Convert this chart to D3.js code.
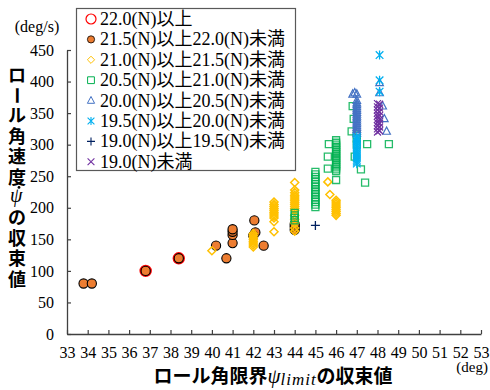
<!DOCTYPE html>
<html>
<head>
<meta charset="utf-8">
<script src="https://cdn.jsdelivr.net/npm/d3@7"></script>
<style>
  body { margin: 0; background: #fff; }
  svg { display: block; }
</style>
</head>
<body>
<div id="chart"></div>
<script>
// x: ロール角限界 (deg), y: ロール角速度 (deg/s)
const xTicks = d3.range(33, 54);
const yTicks = [0, 50, 100, 150, 200, 250, 300, 350, 400, 450];

const ser22 = [[36.8, 100], [38.4, 120]];
const ser215 = [[33.8, 80], [34.2, 80], [36.8, 100], [38.4, 120], [40.2, 140], [40.7, 120],
  [41.0, 144], [41.0, 157], [41.0, 162], [41.0, 166], [42.05, 180], [42.1, 161], [42.0, 156],
  [42.5, 140], [44.0, 165], [44.0, 170], [44.0, 174]];
const ser21 = [[40.0, 132],
  [42.0, 138], [42.0, 141], [42.0, 144], [42.0, 147], [42.0, 150], [42.0, 153], [42.0, 156], [42.0, 159],
  [43.0, 162], [43.0, 178], [43.0, 184], [43.0, 187], [43.0, 190], [43.0, 193], [43.0, 196], [43.0, 199],
  [43.0, 202], [43.0, 205], [43.0, 209],
  [44.0, 163], [44.0, 168], [44.0, 176], [44.0, 182], [44.0, 188], [44.0, 196], [44.0, 199], [44.0, 202],
  [44.0, 205], [44.0, 208], [44.0, 211], [44.0, 214], [44.0, 217], [44.0, 220], [44.0, 224], [44.0, 228],
  [44.0, 240], [45.6, 241], [45.7, 221],
  [46.0, 188], [46.0, 191], [46.0, 194], [46.0, 197], [46.0, 200], [46.0, 203], [46.0, 206], [46.0, 209], [46.0, 212]];
const ser205 = [[44.0, 180], [44.0, 184], [44.0, 188], [44.0, 192],
  [45.0, 201], [45.0, 205], [45.0, 209], [45.0, 213], [45.0, 217], [45.0, 221], [45.0, 225], [45.0, 229],
  [45.0, 233], [45.0, 237], [45.0, 241], [45.0, 245], [45.0, 249], [45.0, 253], [45.0, 257],
  [45.6, 262], [45.6, 281], [45.65, 301],
  [46.0, 244], [46.0, 258], [46.0, 261], [46.0, 264], [46.0, 267], [46.0, 270], [46.0, 273], [46.0, 276],
  [46.0, 279], [46.0, 282], [46.0, 285], [46.0, 288], [46.0, 291], [46.0, 294], [46.0, 297], [46.0, 300],
  [46.0, 303], [46.0, 307],
  [46.75, 321], [46.85, 341], [46.8, 361], [46.9, 281], [47.0, 300], [47.0, 310], [47.0, 316],
  [47.2, 261], [47.4, 240], [47.5, 301], [48.55, 301]];
const ser20 = [[46.8, 380], [46.9, 382], [47.0, 380],
  [47.0, 318], [47.0, 321], [47.0, 324], [47.0, 327], [47.0, 330], [47.0, 333], [47.0, 336], [47.0, 339],
  [47.0, 342], [47.0, 345], [47.0, 348], [47.0, 351], [47.0, 354], [47.0, 357], [47.0, 360], [47.0, 363],
  [47.0, 366], [47.0, 370],
  [48.1, 398], [48.1, 382], [48.25, 361], [48.33, 341], [48.44, 321]];
const ser195 = [[47.0, 270], [47.0, 273], [47.0, 276], [47.0, 279], [47.0, 282], [47.0, 285], [47.0, 288],
  [47.0, 291], [47.0, 294], [47.0, 297], [47.0, 300], [47.0, 303], [47.0, 306], [47.0, 309], [47.0, 312],
  [48.1, 442], [48.1, 402], [48.1, 384]];
const ser19 = [[45.0, 172]];
const serLow = [[48.0, 320], [48.0, 325], [48.0, 330], [48.0, 335], [48.0, 340], [48.0, 345], [48.0, 350],
  [48.0, 355], [48.0, 360], [48.0, 365], [48.1, 322], [48.1, 328], [48.1, 334], [48.1, 340], [48.1, 346],
  [48.1, 352], [48.1, 358], [48.1, 364]];

const legendLabels = ['22.0(N)以上', '21.5(N)以上22.0(N)未満', '21.0(N)以上21.5(N)未満',
  '20.5(N)以上21.0(N)未満', '20.0(N)以上20.5(N)未満', '19.5(N)以上20.0(N)未満',
  '19.0(N)以上19.5(N)未満', '19.0(N)未満'];

const width = 490, height = 390;
const serif = '"Liberation Serif", "Times New Roman", serif';
const cjk = '"Noto Sans CJK JP", sans-serif';

const svg = d3.select('#chart').append('svg')
  .attr('width', width).attr('height', height);

const x = d3.scaleLinear().domain([33, 53]).range([67, 481]);
const y = d3.scaleLinear().domain([0, 450]).range([334, 50]);

// marker shapes
const shapes = {
  circle: s => `M${s},0A${s},${s} 0 1,1 ${-s},0A${s},${s} 0 1,1 ${s},0Z`,
  diamond: s => `M0,${-s}L${s},0L0,${s}L${-s},0Z`,
  square: s => `M${-s},${-s}H${s}V${s}H${-s}Z`,
  triangle: s => `M0,${-s * 1.15}L${s},${s * 0.75}L${-s},${s * 0.75}Z`,
  asterisk: s => `M${-s},${-s}L${s},${s}M${-s},${s}L${s},${-s}M0,${-s * 1.2}V${s * 1.2}`,
  plus: s => `M${-s},0H${s}M0,${-s}V${s}`,
  cross: s => `M${-s},${-s}L${s},${s}M${-s},${s}L${s},${-s}`
};

const series = [
  { data: ser22, shape: 'circle', size: 5, fill: 'none', stroke: '#FF0000', sw: 2.4, lsize: 5, lsw: 1.2 },
  { data: ser215, shape: 'circle', size: 4.6, fill: '#ED7D31', stroke: '#000', sw: 1.1, lsize: 3.6, lsw: 0.8 },
  { data: ser21, shape: 'diamond', size: 4, fill: 'none', stroke: '#FFC000', sw: 1.5, lsize: 3.6, lsw: 1 },
  { data: ser205, shape: 'square', size: 3.5, fill: 'none', stroke: '#00B050', sw: 1.3, lsize: 3.4, lsw: 1, op: 0.85 },
  { data: ser20, shape: 'triangle', size: 3.8, fill: 'none', stroke: '#4472C4', sw: 1.2, lsize: 3.6, lsw: 1 },
  { data: ser195, shape: 'asterisk', size: 3.8, fill: 'none', stroke: '#00B0F0', sw: 1.3, lsize: 3.4, lsw: 1.1 },
  { data: ser19, shape: 'plus', size: 4.5, fill: 'none', stroke: '#002060', sw: 1.3, lsize: 4, lsw: 1.1 },
  { data: serLow, shape: 'cross', size: 3.5, fill: 'none', stroke: '#7030A0', sw: 1.2, lsize: 3.4, lsw: 1.1 }
];

// axes
const axisColor = '#404040';
const xAxis = svg.append('g')
  .attr('transform', `translate(0,${y(0)})`)
  .call(d3.axisBottom(x).tickValues(xTicks).tickSize(-4).tickSizeOuter(0).tickPadding(13));
const yAxis = svg.append('g')
  .attr('transform', `translate(${x(33)},0)`)
  .call(d3.axisLeft(y).tickValues(yTicks).tickSize(-4).tickSizeOuter(0).tickPadding(13));

[xAxis, yAxis].forEach(g => {
  g.select('.domain').attr('stroke', axisColor).attr('stroke-width', 1.3);
  g.selectAll('.tick line').attr('stroke', axisColor).attr('stroke-width', 1.2);
  g.selectAll('.tick text')
    .style('font-family', serif)
    .style('font-size', '16px')
    .attr('fill', '#000');
});

// points
series.forEach(s => {
  svg.append('g').selectAll('path')
    .data(s.data)
    .enter()
    .append('path')
    .attr('d', shapes[s.shape](s.size))
    .attr('transform', d => `translate(${x(d[0])},${y(d[1])})`)
    .attr('fill', s.fill)
    .attr('stroke', s.stroke)
    .attr('stroke-width', s.sw)
    .attr('opacity', s.op || 1);
});

// legend
const legend = svg.append('g');
legend.append('rect')
  .attr('x', 76.5).attr('y', 8.5).attr('width', 219).attr('height', 162)
  .attr('fill', '#fff').attr('stroke', '#595959').attr('stroke-width', 1.2);

series.forEach((s, i) => {
  const ly = 19 + i * 20.4;
  legend.append('path')
    .attr('d', shapes[s.shape](s.lsize))
    .attr('transform', `translate(91,${ly})`)
    .attr('fill', s.fill)
    .attr('stroke', s.stroke)
    .attr('stroke-width', s.lsw);
  legend.append('text')
    .attr('x', 100).attr('y', ly + 6)
    .style('font-family', `"Liberation Serif", "Noto Sans CJK JP", serif`)
    .style('font-size', '18px')
    .text(legendLabels[i]);
});

// unit labels
svg.append('text')
  .attr('x', 37).attr('y', 32).attr('text-anchor', 'middle')
  .style('font-family', serif).style('font-size', '16px')
  .text('(deg/s)');
svg.append('text')
  .attr('x', 488).attr('y', 372).attr('text-anchor', 'end')
  .style('font-family', serif).style('font-size', '15px')
  .text('(deg)');

// y-axis title, one glyph per line, in a single text element
const yChars = ['ロ', 'ー', 'ル', '角', '速', '度', 'ψ', 'の', '収', '束', '値'];
const ytitle = svg.append('text')
  .style('font-family', cjk).style('font-weight', 700).style('font-size', '18px');
yChars.forEach((c, i) => {
  const cy = 75 + i * 20.4;
  const t = ytitle.append('tspan').text(c);
  if (c === 'ψ') {
    t.attr('x', 10).attr('y', cy + 5)
      .style('font-family', serif).style('font-style', 'italic').style('font-weight', 400)
      .style('font-size', '20px');
    svg.append('circle').attr('cx', 19).attr('cy', cy - 10).attr('r', 1.4).attr('fill', '#000');
  } else if (c === 'ー') {
    t.attr('x', 10.2).attr('y', cy - 9).attr('rotate', 90);
  } else {
    t.attr('x', 8).attr('y', cy + 6.5);
  }
});

// x-axis title
const xt = svg.append('text')
  .attr('x', 273).attr('y', 383).attr('text-anchor', 'middle');
xt.append('tspan').style('font-family', cjk).style('font-weight', 700).style('font-size', '19px')
  .text('ロール角限界');
xt.append('tspan').style('font-family', serif).style('font-style', 'italic').style('font-size', '21px')
  .text('ψ');
xt.append('tspan').attr('dy', 2).style('font-family', serif).style('font-style', 'italic').style('font-size', '17px')
  .style('letter-spacing', '1px').text('limit');
xt.append('tspan').attr('dy', -2).style('font-family', cjk).style('font-weight', 700).style('font-size', '19px')
  .text('の収束値');
</script>
</body>
</html>
